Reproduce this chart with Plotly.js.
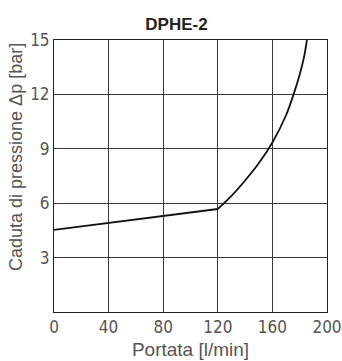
<!DOCTYPE html>
<html>
<head>
<meta charset="utf-8">
<script src="https://cdn.plot.ly/plotly-3.0.1.min.js"></script>
<style>html,body{margin:0;padding:0;background:#fff;}#chart{width:342px;height:361px;}</style>
</head>
<body>
<div id="chart"></div>
<script>
const chartTitle = "DPHE-2";
const xTitle = "Portata [l/min]";
const yTitle = "Caduta di pressione Δp [bar]";
// low-flow linear branch
const flowLow = [0, 40, 80, 120];
const dpLow = [4.53, 4.9, 5.27, 5.68];
// high-flow curved branch
const flowHigh = [120, 130, 140, 150, 160, 170, 175.5, 180, 183, 185.3];
const dpHigh = [5.68, 6.4, 7.25, 8.2, 9.35, 10.85, 12.0, 13.1, 14.0, 15.0];
const xTickVals = [0, 40, 80, 120, 160, 200];
const yTickVals = [3, 6, 9, 12, 15];

const tickFont = {family: "Liberation Sans Narrow, DejaVu Sans Condensed, Arial Narrow, sans-serif", size: 17, color: "#555"};
const titleFont = {family: "Liberation Sans, Arial, sans-serif", size: 19, color: "#555"};

const lineStyle = {color: "#111", width: 1.8};
const traces = [
  {x: flowLow, y: dpLow, type: "scatter", mode: "lines", line: lineStyle, hoverinfo: "skip", showlegend: false},
  {x: flowHigh, y: dpHigh, type: "scatter", mode: "lines", line: Object.assign({shape: "spline", smoothing: 1}, lineStyle), hoverinfo: "skip", showlegend: false}
];

const layout = {
  width: 342, height: 361,
  margin: {l: 54, r: 15, t: 40, b: 49},
  paper_bgcolor: "#fff", plot_bgcolor: "#fff",
  title: {text: "<b>" + chartTitle + "</b>", font: {family: "Liberation Sans, Arial, sans-serif", size: 17, color: "#222"},
          x: 176.5/342, xref: "container", xanchor: "center", y: 1 - 24/361, yref: "container", yanchor: "middle"},
  xaxis: {
    range: [0, 200], tickvals: xTickVals, ticktext: xTickVals.map(String),
    showgrid: true, gridcolor: "#3a3a3a", gridwidth: 1,
    showline: true, linecolor: "#222", linewidth: 1, mirror: true,
    zeroline: false, ticks: "", tickfont: tickFont, ticklabeloverflow: "allow", automargin: false,
    title: {text: xTitle, font: titleFont, standoff: 6}
  },
  yaxis: {
    range: [0, 15], tickvals: yTickVals, ticktext: yTickVals.map(String),
    showgrid: true, gridcolor: "#3a3a3a", gridwidth: 1,
    showline: true, linecolor: "#222", linewidth: 1, mirror: true,
    zeroline: false, ticks: "", tickfont: tickFont, automargin: false
  },
  annotations: [{
    text: yTitle, xref: "paper", yref: "paper",
    x: (16 - 54) / 273, y: (312 - 157) / 272,
    xanchor: "center", yanchor: "middle", textangle: -90,
    showarrow: false, font: {family: titleFont.family, size: 18, color: titleFont.color}
  }]
};

Plotly.newPlot("chart", traces, layout, {displayModeBar: false, staticPlot: true});
</script>
</body>
</html>
